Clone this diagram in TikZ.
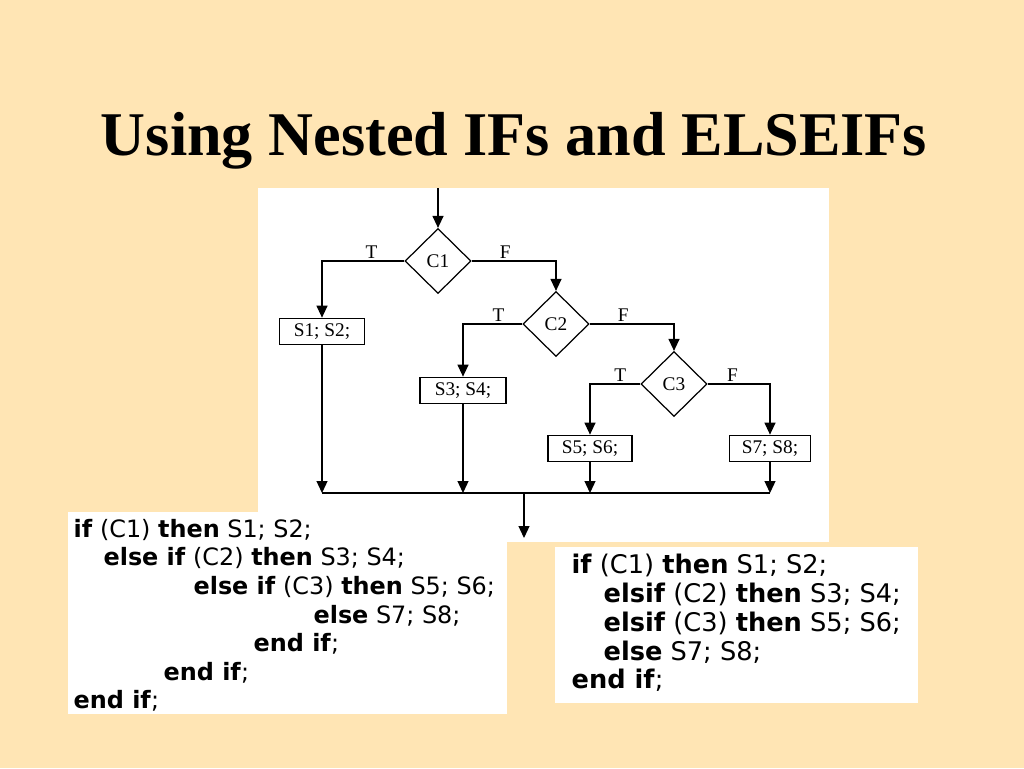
\documentclass[tikz,border=0pt]{standalone}
\usepackage{fontspec}
\setmainfont{Liberation Serif}
\newfontfamily\codefont{DejaVu Sans}
\usetikzlibrary{shapes.geometric,arrows.meta,positioning}
\definecolor{slidebg}{RGB}{255,229,180}

\tikzset{
  cond/.style={diamond, draw, inner sep=0pt, minimum width=1.32cm, minimum height=1.3cm,
    font=\fontsize{11}{12}\selectfont},
  stmt/.style={rectangle, draw, inner sep=0pt, minimum height=0.53cm,
    font=\fontsize{11}{12}\selectfont},
  lbl/.style={inner sep=1pt, font=\fontsize{11}{12}\selectfont},
  flow/.style={-{Triangle[length=2.4mm,width=2.2mm]}},
  lcode/.style={anchor=base west, inner sep=0pt, font=\codefont\fontsize{13.6}{16}\selectfont},
  rcode/.style={anchor=base west, inner sep=0pt, font=\codefont\fontsize{14.6}{17}\selectfont},
}

\begin{document}
\begin{tikzpicture}[x=0.02cm, y=-0.02cm, line width=0.7pt]
  % slide and panels
  \fill[slidebg] (0,0) rectangle (1024,768);
  \node[anchor=base, inner sep=0pt, font=\bfseries\fontsize{35.4}{40}\selectfont] (title) at (514,155)
    {Using Nested IFs and ELSEIFs};
  \fill[white] (258,188) rectangle (829,542);
  \fill[white] (68,512) rectangle (507,714);
  \fill[white] (555,547) rectangle (918,703);

  % flow chart
  \coordinate (in) at (438,188);
  \node[cond] (c1) at (438,261) {C1};
  \node[cond] (c2) at (556,324) {C2};
  \node[cond] (c3) at (674,384) {C3};
  \node[stmt, minimum width=1.7cm] (s1) at (322,331.5) {S1; S2;};
  \node[stmt, minimum width=1.72cm] (s3) at (463,390.5) {S3; S4;};
  \node[stmt, minimum width=1.68cm] (s5) at (590,448.5) {S5; S6;};
  \node[stmt, minimum width=1.62cm] (s7) at (770,448.5) {S7; S8;};
  \coordinate (j1) at (322,493);
  \coordinate (j3) at (463,493);
  \coordinate (j5) at (590,493);
  \coordinate (j7) at (770,493);
  \coordinate (out) at (524,493);
  \coordinate (exit) at (524,538);

  \draw[flow] (in) -- (c1);
  \draw[flow] (c1.west) -| node[lbl, above, pos=.2] {T} (s1);
  \draw[flow] (c1.east) -| node[lbl, above, pos=.2] {F} (c2);
  \draw[flow] (c2.west) -| node[lbl, above, pos=.2] {T} (s3);
  \draw[flow] (c2.east) -| node[lbl, above, pos=.2] {F} (c3);
  \draw[flow] (c3.west) -| node[lbl, above, pos=.2] {T} (s5);
  \draw[flow] (c3.east) -| node[lbl, above, pos=.2] {F} (s7);
  \draw[flow] (s1) -- (j1);
  \draw[flow] (s3) -- (j3);
  \draw[flow] (s5) -- (j5);
  \draw[flow] (s7) -- (j7);
  \draw (j1) -- (j7);
  \draw[flow] (out) -- (exit);

  % nested if
  \node[lcode] (l1) at (73,537) {\textbf{if} (C1) \textbf{then} S1; S2;};
  \node[lcode] (l2) at (103,565) {\textbf{else if} (C2) \textbf{then} S3; S4;};
  \node[lcode] (l3) at (193,594) {\textbf{else if} (C3) \textbf{then} S5; S6;};
  \node[lcode] (l4) at (313,623) {\textbf{else} S7; S8;};
  \node[lcode] (l5) at (253,651) {\textbf{end if};};
  \node[lcode] (l6) at (163,680) {\textbf{end if};};
  \node[lcode] (l7) at (73,708) {\textbf{end if};};

  % elsif
  \node[rcode] (r1) at (571,573) {\textbf{if} (C1) \textbf{then} S1; S2;};
  \node[rcode] (r2) at (603,602) {\textbf{elsif} (C2) \textbf{then} S3; S4;};
  \node[rcode] (r3) at (603,631) {\textbf{elsif} (C3) \textbf{then} S5; S6;};
  \node[rcode] (r4) at (603,660) {\textbf{else} S7; S8;};
  \node[rcode] (r5) at (571,688) {\textbf{end if};};
\end{tikzpicture}
\end{document}
